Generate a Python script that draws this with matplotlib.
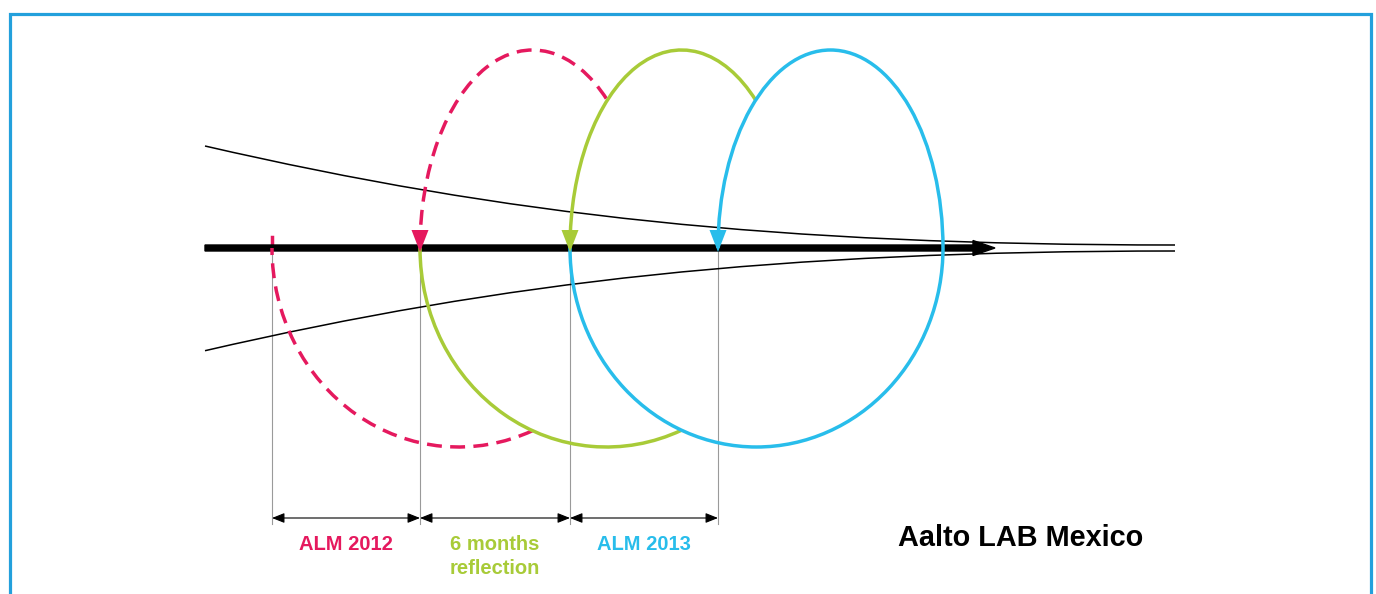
import numpy as np
import matplotlib
matplotlib.use("Agg")
import matplotlib.pyplot as plt
from matplotlib.patches import Arc, PathPatch
from matplotlib.path import Path

plt.rcParams['font.family'] = ['Liberation Sans', 'DejaVu Sans']

# ------------------------------------------------------------
# DATA (picture read in pixel units, y grows downwards)
# ------------------------------------------------------------
loop_starts = [272, 420, 570, 718]          # where each cycle begins / ends on the timeline
loop_names = ["ALM 2012", "6 months\nreflection", "ALM 2013"]
loop_colors = ["#e5195e", "#a8cb38", "#28bdeb"]
loop_dashed = [True, False, False]
loop_reach = 373                            # right extreme of a loop, measured from its start
loop_top = 50
loop_bottom = 447
axis_y = 248

axis_start, axis_end = 205, 995

# funnel edges as cubic bezier control points
upper_ctrl = [(205, 146), (505, 215), (775, 245), (1175, 245)]
lower_ctrl = [(205, 350.7), (505, 281.6), (775, 251), (1175, 251)]

title_text = "Aalto LAB Mexico"

# ------------------------------------------------------------
# FIGURE
# ------------------------------------------------------------
fig = plt.figure(figsize=(13.76, 5.94), dpi=100)
ax = fig.add_axes([0, 0, 1, 1])
ax.set_xlim(0, 1376)
ax.set_ylim(594, 0)
ax.axis("off")

# frame (open at the bottom)
frame_c = "#23a0dc"
ax.plot([9.5, 9.5, 1370.5, 1370.5], [600, 13.5, 13.5, 600], color=frame_c, lw=2.3,
        solid_joinstyle="miter")

# funnel curves
codes = [Path.MOVETO, Path.CURVE4, Path.CURVE4, Path.CURVE4]
for ctrl in (upper_ctrl, lower_ctrl):
    ax.add_patch(PathPatch(Path(ctrl, codes), fill=False, edgecolor="black",
                           lw=1.1, zorder=3))

# main time arrow
ax.arrow(axis_start, axis_y, axis_end - axis_start, 0, width=6, head_width=15,
         head_length=22, length_includes_head=True, color="black", zorder=2)

# vertical markers + dimension arrows + labels
for x in loop_starts:
    ax.plot([x, x], [251, 524], color="#9a9a9a", lw=0.8, zorder=1)

for i, name in enumerate(loop_names):
    x0, x1 = loop_starts[i], loop_starts[i + 1]
    ax.annotate("", xy=(x1, 518), xytext=(x0, 518),
                arrowprops=dict(arrowstyle="<|-|>,head_length=0.75,head_width=0.3",
                                mutation_scale=10, color="black", lw=0.8,
                                shrinkA=0, shrinkB=0))
    for k, line in enumerate(name.split("\n")):
        ax.text((x0 + x1) / 2, 550 + 24 * k, line, color=loop_colors[i],
                fontsize=14.5, fontweight="bold", ha="center", va="baseline")


def geo_angle(off_x, a, b, upper):
    # polar angle (as Arc wants it) of the ellipse point at horizontal offset off_x
    off_y = b * np.sqrt(max(0.0, 1 - (off_x / a) ** 2))
    if upper:
        off_y = -off_y
    return np.degrees(np.arctan2(off_y, off_x)) % 360


# loops
n = len(loop_names)
for i in range(n):
    s = loop_starts[i]
    nxt = loop_starts[i + 1]
    right = s + loop_reach
    c = loop_colors[i]
    ls = (0, (4.3, 2.4)) if loop_dashed[i] else "-"

    # lower half (from start, down and round to the right)
    w_lo = right - s
    h_lo = 2 * (loop_bottom - axis_y)
    if i < n - 1:
        d = loop_starts[i + 1] - s
        cut_lo = geo_angle(d / 2, w_lo / 2, h_lo / 2, upper=False)
    else:
        cut_lo = 0
    ax.add_patch(Arc(((s + right) / 2, axis_y), w_lo, h_lo, theta1=cut_lo,
                     theta2=180, color=c, lw=2.5, linestyle=ls, zorder=4))
    if i == 0:
        ax.plot([s, s], [236.5, 247.5], color=c, lw=2.5, zorder=1.5)

    # upper half (from right extreme, over the top and down to next start)
    w_up = right - nxt
    h_up = 2 * (axis_y - loop_top)
    if i < n - 1:
        nright = loop_starts[i + 1] + loop_reach
        nnxt = loop_starts[i + 2]
        off = ((nnxt + nright) / 2) - ((nxt + right) / 2)
        cut_up = geo_angle(off / 2, w_up / 2, h_up / 2, upper=True)
    else:
        cut_up = 360
    ax.add_patch(Arc(((nxt + right) / 2, axis_y), w_up, h_up, theta1=180,
                     theta2=cut_up, color=c, lw=2.5, linestyle=ls, zorder=4))

    # arrow head where the loop lands on the timeline
    ax.arrow(nxt, 230, 0, 22, width=0, head_width=17, head_length=22,
             length_includes_head=True, color=c, lw=0, zorder=5)

ax.text(1021, 546, title_text, fontsize=20.8, fontweight="bold", color="black",
        ha="center", va="baseline")

fig.savefig("out.png", dpi=100, facecolor="white")
